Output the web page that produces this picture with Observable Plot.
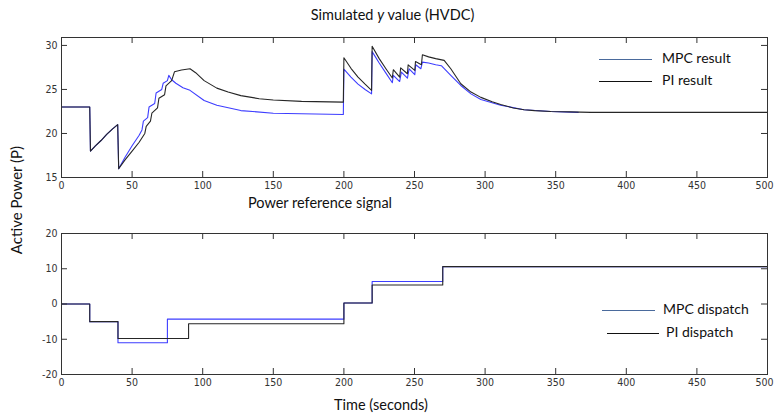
<!DOCTYPE html>
<html>
<head>
<meta charset="utf-8">
<script src="https://cdn.jsdelivr.net/npm/d3@7"></script>
<script src="https://cdn.jsdelivr.net/npm/@observablehq/plot@0.6"></script>
<style>
  html, body { margin: 0; padding: 0; background: #fff; }
  #wrap { position: relative; width: 775px; height: 415px; background: #fff; overflow: hidden; }
  .lbl { position: absolute; font-family: Lato, "Open Sans", sans-serif; color: #111; white-space: nowrap; }
  .leg { position: absolute; font-family: Lato, "Open Sans", sans-serif; font-size: 14px; color: #111; white-space: nowrap; }
  .legline { position: absolute; height: 0; border-top: 1.5px solid #111; }
  .panel { position: absolute; left: 0; }
</style>
</head>
<body>
<div id="wrap">
  <div class="lbl" id="title1" style="left:0;width:785px;text-align:center;top:6px;font-size:14.5px;">Simulated <i>y</i> value (HVDC)</div>
  <div class="lbl" id="title2" style="left:0;width:640px;text-align:center;top:194px;font-size:14.5px;">Power reference signal</div>
  <div class="lbl" id="xlab" style="left:0;width:762px;text-align:center;top:396px;font-size:14.5px;">Time (seconds)</div>
  <div class="lbl" id="ylab" style="left:16px;top:200px;font-size:15px;transform:translate(-50%,-50%) rotate(-90deg);">Active Power (P)</div>
  <div id="top" class="panel" style="top:0"></div>
  <div id="bottom" class="panel" style="top:195px"></div>
</div>
<script>
// ---------- data ----------
const xTicks = [0, 50, 100, 150, 200, 250, 300, 350, 400, 450, 500];
const topYTicks = [15, 20, 25, 30];
const bottomYTicks = [-20, -10, 0, 10, 20];

// Top panel: simulated y value
const piResultT = [0,20,20.5,24,28,32,36,39.8,40.5,45,50,55,59,60,63,64,68,69,73,74,78,80,85,91,95,101,110,118,127,140,150,170,199.6,200,205,210,215,219.6,220,225,230,234.3,235,239.5,240.2,245,245.5,250.2,250.7,254.9,255.6,260,265,271,275.7,282.8,290,297,305,311,320,327.6,335,346.6,360,375,500];
const piResultV = [23,23,18,18.6,19.2,19.9,20.5,21,16,17,18,19,20,20.8,21.4,22.3,22.9,24,24.4,25.4,26,27,27.2,27.35,26.9,26,25.15,24.7,24.3,23.95,23.8,23.65,23.56,28.6,27.4,26.4,25.6,24.9,29.9,28.5,27.3,26.3,27.24,26.4,27.46,26.78,27.8,27.16,28.18,27.8,28.94,28.7,28.5,28.3,27.35,25.65,24.7,24.1,23.6,23.3,22.9,22.7,22.6,22.5,22.45,22.4,22.4];

const mpcResultT = [0,20,20.5,24,28,32,36,39.8,40.5,45,50,55,57,58,61,62,66,67,71,72,75,76,78,81,86,91,101,110,127,150,199.6,200,205,210,215,219.6,220,225,230,234.3,235,239.5,240.7,245,246.2,250.2,250.9,254.5,255.6,260,265,269,275.7,282.8,290,297,311,327.6,346.6,366];
const mpcResultV = [23,23,18,18.6,19.2,19.9,20.5,21,16,17.3,18.6,19.8,20.4,21.4,21.8,23.0,23.4,24.6,25.0,25.7,26.0,26.6,26.1,25.7,25.2,24.9,23.75,23.2,22.6,22.3,22.16,27.3,26.4,25.6,25.0,24.5,29.3,28.0,26.8,25.76,26.6,25.9,26.97,26.28,27.35,26.67,27.8,27.35,28.1,28.0,27.8,27.7,26.6,25.45,24.5,23.85,23.2,22.7,22.5,22.4];

// Bottom panel: power reference (dispatch) steps
const mpcDispatchT = [0, 20, 40, 75, 200, 220, 270, 500];
const mpcDispatchV = [0, -5, -11, -4.3, 0.3, 6.4, 10.6, 10.6];
const piDispatchT = [0, 20, 40, 90, 200, 220, 270, 500];
const piDispatchV = [0, -5, -9.8, -5.6, 0.3, 5.4, 10.6, 10.6];

const legendTop = ["MPC result", "PI result"];
const legendBottom = ["MPC dispatch", "PI dispatch"];

// ---------- helpers ----------
const zip = (T, V) => T.map((t, i) => ({t, v: V[i]}));
const BLUE = "#3d3dff";
const BLACK = "#262626";
const FRAME = "#333";
const W = 775, ML = 61, MR = 8;
const innerW = W - ML - MR;
const tickLen = 6;
const fontStyle = {fontFamily: "'Liberation Sans Narrow', 'Arial Narrow', 'DejaVu Sans Condensed', sans-serif", fontSize: "10.5px", color: "#333", background: "transparent"};

function panel({height, mt, mb, yDomain, yTicks, series, curve}) {
  const innerH = height - mt - mb;
  const lastX = xTicks[xTicks.length - 1];
  return Plot.plot({
    width: W, height,
    marginLeft: ML, marginRight: MR, marginTop: mt, marginBottom: mb,
    style: fontStyle,
    x: {domain: [0, 500], label: null},
    y: {domain: yDomain, label: null},
    marks: [
      ...series.map(s => Plot.line(s.data, {x: "t", y: "v", stroke: s.color, strokeWidth: 1.1, curve})),
      Plot.frame({stroke: FRAME, strokeWidth: 1}),
      // inward ticks on all four sides (MATLAB style)
      Plot.tickX(xTicks, {x: d => d, insetTop: innerH - tickLen, stroke: FRAME}),
      Plot.tickX(xTicks, {x: d => d, insetBottom: innerH - tickLen, stroke: FRAME}),
      Plot.tickY(yTicks, {y: d => d, insetRight: innerW - tickLen, stroke: FRAME}),
      Plot.tickY(yTicks, {y: d => d, insetLeft: innerW - tickLen, stroke: FRAME}),
      Plot.axisX({ticks: xTicks.filter(d => d !== lastX), tickSize: 0, tickPadding: 4, label: null, tickFormat: d => String(d)}),
      Plot.axisX({ticks: [lastX], tickSize: 0, tickPadding: 4, label: null, dx: -3, tickFormat: d => String(d)}),
      Plot.axisY({ticks: yTicks, tickSize: 0, tickPadding: 4, label: null, tickFormat: d => String(d)})
    ]
  });
}

const topPlot = panel({
  height: 200, mt: 37, mb: 23,
  yDomain: [15, 30.9], yTicks: topYTicks, curve: "linear",
  series: [
    {data: zip(mpcResultT, mpcResultV), color: BLUE},
    {data: zip(piResultT, piResultV), color: BLACK}
  ]
});
document.getElementById("top").appendChild(topPlot);

const bottomPlot = panel({
  height: 220, mt: 38, mb: 41,
  yDomain: [-20, 20], yTicks: bottomYTicks, curve: "step-after",
  series: [
    {data: zip(mpcDispatchT, mpcDispatchV), color: BLUE},
    {data: zip(piDispatchT, piDispatchV), color: BLACK}
  ]
});
document.getElementById("bottom").appendChild(bottomPlot);

// ---------- legends (HTML, placed inside the panels) ----------
const wrap = document.getElementById("wrap");
function addLegend(names, colors, entries) {
  names.forEach((name, i) => {
    const e = entries[i];
    const line = document.createElement("div");
    line.className = "legline";
    line.style.left = e.x1 + "px";
    line.style.width = (e.x2 - e.x1) + "px";
    line.style.top = e.y + "px";
    line.style.borderTopColor = colors[i];
    wrap.appendChild(line);
    const txt = document.createElement("div");
    txt.className = "leg";
    txt.textContent = name;
    txt.style.left = e.tx + "px";
    txt.style.top = (e.y - 10) + "px";
    wrap.appendChild(txt);
  });
}
addLegend(legendTop, ["#4a6a9c", "#111"], [
  {x1: 599, x2: 652, y: 59, tx: 662},
  {x1: 599, x2: 652, y: 81, tx: 662}
]);
addLegend(legendBottom, ["#4a6a9c", "#111"], [
  {x1: 602, x2: 655, y: 310, tx: 663},
  {x1: 607, x2: 659, y: 333, tx: 666}
]);
</script>
</body>
</html>
